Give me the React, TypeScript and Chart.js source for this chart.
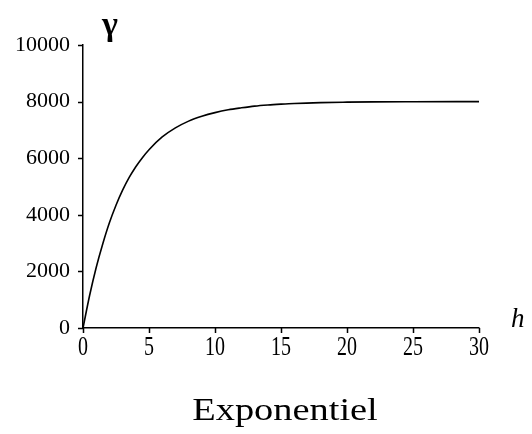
import React, { useEffect, useRef } from "react";
import { Chart, registerables } from "chart.js";

Chart.register(...registerables);

const lagH = [0, 0.5, 1, 1.5, 2, 2.5, 3, 3.5, 4, 4.5, 5, 6, 7, 8, 9, 10, 11, 12, 13, 14, 15, 16, 18, 20, 22, 25, 30];
const gammaValues = [0, 1150, 2140, 2980, 3720, 4340, 4870, 5320, 5700, 6020, 6300, 6750, 7070, 7310, 7480, 7610, 7710, 7780, 7840, 7880, 7910, 7935, 7965, 7980, 7990, 7996, 8000];
const xTicks = [0, 5, 10, 15, 20, 25, 30];
const yTicks = [0, 2000, 4000, 6000, 8000, 10000];
const chartTitle = "Exponentiel";
const yLabel = "γ";
const xLabel = "h";

const SERIF = "'Liberation Serif', 'Times New Roman', serif";

const textPlugin = {
  id: "textPlugin",
  afterDraw(chart: any) {
    const ctx = chart.ctx;
    const area = chart.chartArea;
    const xs = chart.scales.x;
    const ys = chart.scales.y;
    ctx.save();
    ctx.fillStyle = "#000";
    ctx.strokeStyle = "#000";
    ctx.lineWidth = 1.5;
    // tick marks outside the axes
    ctx.beginPath();
    xTicks.forEach((v) => {
      const px = Math.round(xs.getPixelForValue(v)) + 0.5;
      ctx.moveTo(px, area.bottom);
      ctx.lineTo(px, area.bottom + 5);
    });
    yTicks.forEach((v) => {
      const py = Math.round(ys.getPixelForValue(v)) + 0.5;
      ctx.moveTo(area.left, py);
      ctx.lineTo(area.left - 5, py);
    });
    ctx.stroke();
    // x tick labels (taller, narrower glyphs as in the reference)
    xTicks.forEach((v) => {
      ctx.save();
      ctx.translate(xs.getPixelForValue(v), 348);
      ctx.scale(1, 1.4);
      ctx.font = `20px ${SERIF}`;
      ctx.textAlign = "center";
      ctx.textBaseline = "middle";
      ctx.fillText(String(v), 0, 0);
      ctx.restore();
    });
    // gamma label above y axis
    ctx.font = `bold 34px ${SERIF}`;
    ctx.textAlign = "center";
    ctx.textBaseline = "alphabetic";
    ctx.fillText(yLabel, area.left + 27, 35);
    // h label right of x axis
    ctx.font = `italic 27px ${SERIF}`;
    ctx.textAlign = "left";
    ctx.fillText(xLabel, area.right + 32, area.bottom - 1);
    // title
    ctx.save();
    ctx.translate(285, 420);
    ctx.scale(1.2, 1);
    ctx.font = `32px ${SERIF}`;
    ctx.textAlign = "center";
    ctx.fillText(chartTitle, 0, 0);
    ctx.restore();
    ctx.restore();
  },
};

export default function App() {
  const ref = useRef<HTMLCanvasElement>(null);
  useEffect(() => {
    if (!ref.current) return;
    const chart = new Chart(ref.current, {
      type: "scatter",
      data: {
        datasets: [
          {
            data: lagH.map((h, i) => ({ x: h, y: gammaValues[i] })),
            showLine: true,
            borderColor: "#000",
            borderWidth: 1.6,
            pointRadius: 0,
            cubicInterpolationMode: "monotone",
            fill: false,
          },
        ],
      },
      options: {
        responsive: false,
        animation: false,
        layout: { padding: { left: 0, top: 45, right: 53, bottom: 0 } },
        plugins: { legend: { display: false }, tooltip: { enabled: false }, title: { display: false } },
        scales: {
          x: {
            type: "linear",
            min: 0,
            max: 30,
            afterFit: (s: any) => { s.height = 106; },
            afterBuildTicks: (s: any) => { s.ticks = xTicks.map((v) => ({ value: v })); },
            ticks: { display: false },
            grid: { drawOnChartArea: false, drawTicks: false, color: "#000", lineWidth: 1.5 },
            border: { color: "#000", width: 1.5 },
          },
          y: {
            type: "linear",
            min: 0,
            max: 10000,
            afterFit: (s: any) => { s.width = 83; },
            afterBuildTicks: (s: any) => { s.ticks = yTicks.map((v) => ({ value: v })); },
            ticks: { color: "#000", font: { family: SERIF, size: 22 }, padding: 13, callback: (v: any) => String(v) },
            grid: { drawOnChartArea: false, drawTicks: false, color: "#000", lineWidth: 1.5 },
            border: { color: "#000", width: 1.5 },
          },
        },
      },
      plugins: [textPlugin],
    } as any);
    return () => chart.destroy();
  }, []);
  return (
    <div style={{ position: "fixed", left: 0, top: 0, width: 532, height: 434, background: "#fff" }}>
      <canvas ref={ref} width={532} height={434} style={{ display: "block" }} />
    </div>
  );
}
